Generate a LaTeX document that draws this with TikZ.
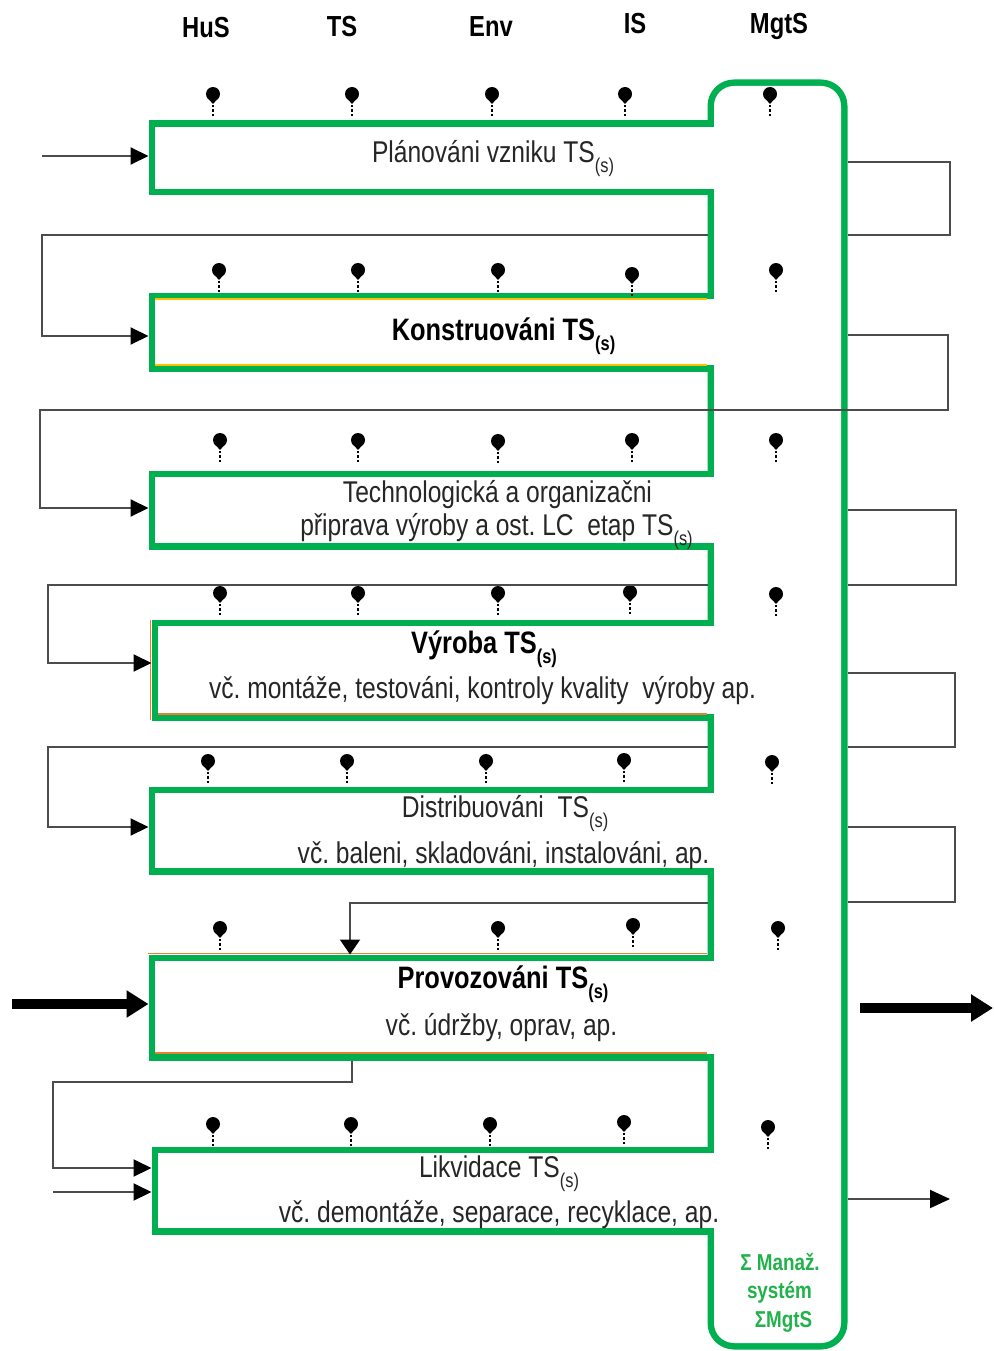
\documentclass[tikz,border=0pt]{standalone}
\usepackage{fontspec}
\setmainfont{Liberation Sans}[FakeStretch=0.82]
\usetikzlibrary{arrows.meta,backgrounds}
\frenchspacing

\definecolor{rimgreen}{HTML}{00B050}
\definecolor{capgreen}{HTML}{22B24C}
\definecolor{edgeorange}{HTML}{ED7D31}
\definecolor{edgeyellow}{HTML}{FFC000}

\newcommand\TSs{TS\raisebox{-10pt}{\fontsize{20}{20}\selectfont(s)}}

\tikzset{
  stage/.style={inner sep=0pt, outer sep=0pt, minimum width=559pt},
  rim/.style={draw=rimgreen, line width=13pt},
  wire/.style={draw=black!70, line width=2pt},
  fat/.style={draw=black, line width=10pt},
  tip/.style={-{Triangle[length=18pt,width=17pt,color=black]}},
  feed/.style={tip, shorten >=6.5pt},
  bigtip/.style={-{Triangle[length=22pt,width=26pt]}},
  hdr/.style={anchor=base, inner sep=0pt, font=\bfseries\fontsize{29}{34}\selectfont},
  txt/.style={anchor=base, inner sep=0pt, text=black!85, font=\fontsize{30}{36}\selectfont},
  ttl/.style={txt, text=black, font=\bfseries\fontsize{31}{36}\selectfont},
  mgtlbl/.style={anchor=base, inner sep=0pt, text=capgreen, font=\bfseries\fontsize{23}{28}\selectfont},
  tap/.pic={
    \fill[black] (0,0) circle (7pt);
    \fill[black] (-5.5,3.8) -- (0,10) -- (5.5,3.8) -- cycle;
    \draw[black, line width=2.2pt, dash pattern=on 2.2pt off 2.2pt] (0,11) -- (0,22);
  }
}

\begin{document}
\begin{tikzpicture}[x=1pt,y=-1pt]
\useasboundingbox (0,0) rectangle (993,1351);

\node[hdr] (hus) at (206,38) {HuS};
\node[hdr] (ts) at (342,37) {TS};
\node[hdr] (env) at (491,37) {Env};
\node[hdr] (is) at (635,33.5) {IS};
\node[hdr] (mgt) at (779,33.5) {MgtS};

\node[inner sep=0pt, outer sep=0pt, minimum width=127pt, minimum height=1257pt] (mgts) at (777.5,714.5) {};

\node[stage, minimum height=62pt] (b1) at (434.5,158) {};
\node[stage, minimum height=66pt] (b2) at (434.5,332) {};
\node[stage, minimum height=66pt] (b3) at (434.5,510) {};
\node[stage, minimum width=556pt, minimum height=88pt] (b4) at (436,670) {};
\node[stage, minimum height=75pt] (b5) at (434.5,830.5) {};
\node[stage, minimum height=93pt] (b6) at (434.5,1007.5) {};
\node[stage, minimum width=556pt, minimum height=75pt] (b7) at (436,1190.5) {};

\begin{scope}[on background layer]
  \draw[rim, rounded corners=20pt] (mgts.south west) rectangle (mgts.north east);
  \foreach \b in {b1,b2,b3,b4,b5,b6,b7}
    \draw[rim] (\b.south west) rectangle (\b.north east);
  \fill[white, rounded corners=20pt] (mgts.south west) rectangle (mgts.north east);
  \foreach \b in {b1,b2,b3,b4,b5,b6,b7}
    \fill[white] (\b.south west) rectangle (\b.north east);
  \draw[edgeyellow, line width=1.2pt] (b2.north west) -- ([xshift=-7pt]b2.north east)
    (b2.south west) -- ([xshift=-7pt]b2.south east);
  \draw[edgeorange, line width=1.2pt] ([xshift=-7.5pt,yshift=6pt]b4.north west) -- ([xshift=-7.5pt,yshift=-6pt]b4.south west)
    (b4.south west) -- ([xshift=-7pt]b4.south east);
  \draw[edgeorange, line width=1.2pt] ([xshift=-7pt,yshift=7.5pt]b6.north west) -- ([xshift=-7pt,yshift=7.5pt]b6.north east)
    ([yshift=1pt]b6.south west) -- ([xshift=-7pt,yshift=1pt]b6.south east);
\end{scope}

\node[txt] (t1) at (493,163) {Plánováni vzniku \TSs};
\node[ttl] (t2) at (503.5,340) {Konstruováni \TSs};
\node[txt] (t3a) at (497.5,502) {Technologická a organizačni};
\node[txt] (t3b) at (496.5,535) {připrava výroby a ost. LC~ etap \TSs};
\node[ttl] (t4a) at (484,653) {Výroba \TSs};
\node[txt] (t4b) at (482.5,698) {vč. montáže, testováni, kontroly kvality~ výroby ap.};
\node[txt] (t5a) at (505,817) {Distribuováni~ \TSs};
\node[txt] (t5b) at (503.5,863) {vč. baleni, skladováni, instalováni, ap.};
\node[ttl] (t6a) at (503,988) {Provozováni \TSs};
\node[txt] (t6b) at (501.5,1035) {vč. údržby, oprav, ap.};
\node[txt] (t7a) at (499,1177) {Likvidace \TSs};
\node[txt] (t7b) at (499,1222) {vč. demontáže, separace, recyklace, ap.};

\node[mgtlbl] (m1) at (780,1270) {Σ Manaž.};
\node[mgtlbl] (m2) at (779.5,1298) {systém};
\node[mgtlbl] (m3) at (783.5,1327) {ΣMgtS};

\foreach \x/\y in {213/94, 352/94, 492/94, 625/94, 770/94,
    219/270, 358/270, 498/270, 632/274, 776/270,
    220/440, 358/440, 498/441, 632/440, 776/440,
    220/593, 358/593, 498/593, 630/592, 776/594,
    208/761, 347/761, 486/761, 624/760, 772/762,
    220/928, 498/928, 633/925, 778/928,
    213/1124, 351/1124, 490/1124, 624/1122, 768/1127}
  \pic at (\x,\y) {tap};

\coordinate (mr) at ([xshift=6.5pt]mgts.east);
\coordinate (ml) at ([xshift=-6.5pt]mgts.west);
\coordinate (src1) at (42,156);
\coordinate (src6) at (12,1004);
\coordinate (out6) at (860,1008);
\coordinate (snk6) at (993,1008);
\coordinate (b6foot) at ([yshift=-6.5pt]b6.south);
\coordinate (src7) at (53,1192);
\coordinate (snk7) at (950,1199);

\draw[wire, feed] (src1) -- (b1.west |- src1);
\draw[wire] (mr |- 0,162) -| (950,235) -- (mr |- 0,235);
\draw[wire, feed] (ml |- 0,235) -| (42,336) -- (b2.west |- 0,336);
\draw[wire, feed] (mr |- 0,335) -| (948,410) -| (40,508) -- (b3.west |- 0,508);
\draw[wire] (mr |- 0,510) -| (956,585) -- (mr |- 0,585);
\draw[wire, feed] (ml |- 0,585) -| (48,663) -- (b4.west |- 0,663);
\draw[wire] (mr |- 0,673) -| (955,747) -- (mr |- 0,747);
\draw[wire, feed] (ml |- 0,747) -| (48,827) -- (b5.west |- 0,827);
\draw[wire] (mr |- 0,827) -| (955,902) -- (mr |- 0,902);
\draw[wire, -{Triangle[length=15pt,width=20pt,color=black]}, shorten >=6.5pt] (ml |- 0,903) -| (b6.north -| 350,0);
\draw[fat, bigtip, shorten >=6.5pt] (src6) -- (b6.west |- src6);
\draw[fat, bigtip] (out6) -- (snk6);
\draw[wire, feed] (b6foot -| 352,0) |- (53,1082) |- (b7.west |- 0,1168);
\draw[wire, feed] (src7) -- (b7.west |- src7);
\draw[wire, -{Triangle[length=20pt,width=18pt,color=black]}] (mr |- snk7) -- (snk7);
\end{tikzpicture}
\end{document}
